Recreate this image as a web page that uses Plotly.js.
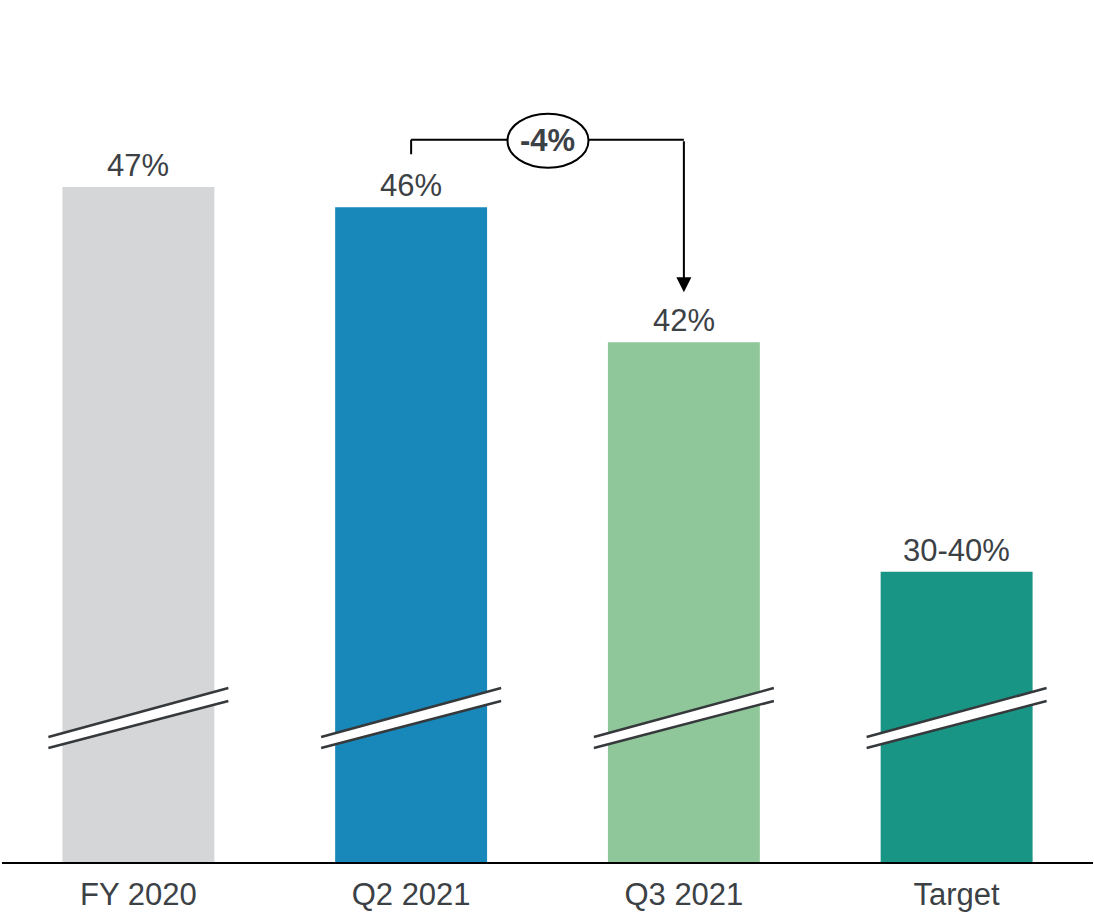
<!DOCTYPE html>
<html>
<head>
<meta charset="utf-8">
<script src="https://cdn.plot.ly/plotly-3.0.1.min.js"></script>
<style>html,body{margin:0;padding:0;background:#fff;}#chart{width:1094px;height:916px;}</style>
</head>
<body>
<div id="chart"></div>
<script>
// ---- data ----
const categories = ["FY 2020", "Q2 2021", "Q3 2021", "Target"];
const values = [46.6, 46.0, 42.0, 35.2];
const valueLabels = ["47%", "46%", "42%", "30-40%"];
const barColors = ["#d5d6d8", "#1788b9", "#8fc79a", "#199585"];
const changeLabel = "-4%";
const changeFrom = 1;   // index of Q2 2021
const changeTo = 2;     // index of Q3 2021

// ---- layout constants ----
const W = 1094, H = 916;
const mL = 2, mR = 1, mT = 60, mB = 54;
const plotW = W - mL - mR, plotH = H - mT - mB;
const yMin = 26.6, pxPerUnit = 33.75;
const yMax = yMin + plotH / pxPerUnit;
const xMin = -0.5, xMax = categories.length - 0.5;
const catPx = plotW / (xMax - xMin);
const textColor = "#3c4146";
const font = "'Liberation Sans', Arial, sans-serif";

const trace = {
  type: "bar",
  x: categories,
  y: values,
  marker: { color: barColors, line: { width: 0 } },
  hoverinfo: "none"
};

const annotations = categories.map((c, i) => ({
  x: c, y: values[i], xref: "x", yref: "y",
  text: valueLabels[i], showarrow: false,
  yanchor: "bottom", yshift: 2,
  font: { family: font, size: 31, color: textColor }
}));

const shapes = [];
// axis break marks (decoration, positioned relative to each category)
const breakYLeftUpper = 125, breakYRightUpper = 174; // px above baseline
categories.forEach((c, i) => {
  const xl = (i - xMin - 90 / catPx) / (xMax - xMin);
  const xr = (i - xMin + 90 / catPx) / (xMax - xMin);
  const ylu = breakYLeftUpper / plotH, yru = breakYRightUpper / plotH;
  const yll = (breakYLeftUpper - 11) / plotH, yrl = (breakYRightUpper - 13) / plotH;
  shapes.push({
    type: "path", xref: "paper", yref: "paper", layer: "above",
    path: `M ${xl} ${ylu} L ${xr} ${yru} L ${xr} ${yrl} L ${xl} ${yll} Z`,
    fillcolor: "#ffffff", line: { width: 0 }
  });
  shapes.push({ type: "line", xref: "paper", yref: "paper", layer: "above",
    x0: xl, y0: ylu, x1: xr, y1: yru, line: { color: "#36393c", width: 2.5 } });
  shapes.push({ type: "line", xref: "paper", yref: "paper", layer: "above",
    x0: xl, y0: yll, x1: xr, y1: yrl, line: { color: "#36393c", width: 2.5 } });
});

// change bracket
const bracketTop = values[changeFrom] + 2.0;
const startY = values[changeFrom] + 53 / pxPerUnit;
const tipY = values[changeTo] + 50 / pxPerUnit;
shapes.push({ type: "line", xref: "x", yref: "y", x0: changeFrom, x1: changeFrom, y0: startY, y1: bracketTop,
  line: { color: "#000", width: 2 } });
shapes.push({ type: "line", xref: "x", yref: "y", x0: changeFrom, x1: changeTo, y0: bracketTop, y1: bracketTop,
  line: { color: "#000", width: 2 } });
shapes.push({ type: "circle", xref: "x", yref: "y", xsizemode: "pixel", ysizemode: "pixel",
  xanchor: (changeFrom + changeTo) / 2, yanchor: bracketTop - 0.03,
  x0: -40, x1: 41, y0: -27, y1: 27,
  fillcolor: "#ffffff", line: { color: "#000", width: 2 } });
annotations.push({
  x: categories[changeTo], y: tipY, xref: "x", yref: "y",
  ax: 0, ay: bracketTop, axref: "pixel", ayref: "y",
  text: "", showarrow: true, arrowhead: 2, arrowsize: 1.5, arrowwidth: 2, arrowcolor: "#000",
  standoff: 0
});
annotations.push({
  x: (changeFrom + changeTo) / 2, y: bracketTop - 0.03, xref: "x", yref: "y",
  text: "<b>" + changeLabel + "</b>", showarrow: false,
  font: { family: font, size: 31, color: textColor }
});

const layout = {
  width: W, height: H,
  margin: { l: mL, r: mR, t: mT, b: mB, pad: 0 },
  paper_bgcolor: "#ffffff", plot_bgcolor: "#ffffff",
  showlegend: false,
  bargap: 0.443,
  xaxis: {
    type: "category", range: [xMin, xMax],
    showline: true, linecolor: "#000", linewidth: 2,
    showgrid: false, zeroline: false, ticks: "",
    ticklabelstandoff: 4,
    tickfont: { family: font, size: 31, color: textColor },
    fixedrange: true
  },
  yaxis: {
    range: [yMin, yMax], visible: false, showgrid: false, zeroline: false, fixedrange: true
  },
  annotations: annotations,
  shapes: shapes
};

Plotly.newPlot("chart", [trace], layout, { displayModeBar: false, staticPlot: true });
</script>
</body>
</html>
